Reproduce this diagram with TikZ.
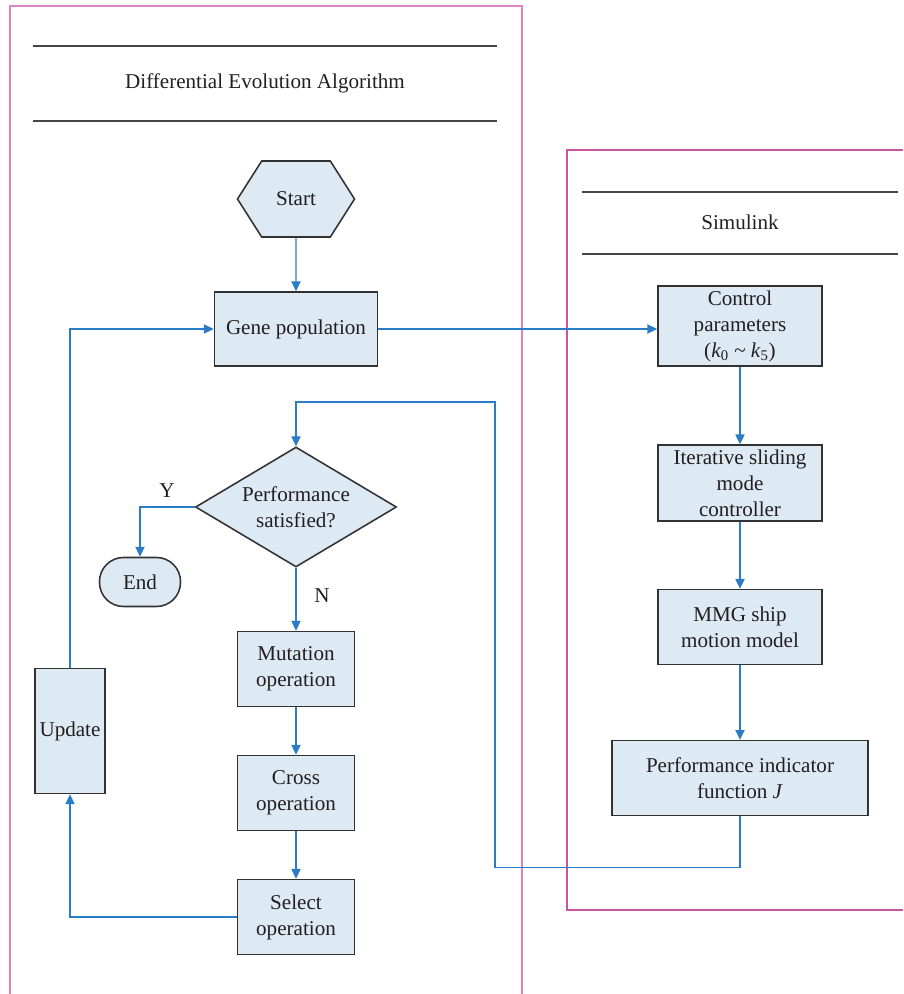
\documentclass[tikz,border=0pt]{standalone}
\usepackage{fontspec}
\setmainfont{Liberation Serif}
\usepackage{tikz}
\usetikzlibrary{shapes.geometric, shapes.symbols, arrows.meta}
\definecolor{boxfill}{RGB}{221,233,243}
\definecolor{boxline}{RGB}{50,50,50}
\definecolor{flowblue}{RGB}{43,124,198}
\definecolor{panelleft}{RGB}{222,132,198}
\definecolor{panelright}{RGB}{200,86,160}
\definecolor{rulegray}{RGB}{70,70,70}
\definecolor{txt}{RGB}{35,31,32}
\tikzstyle{box} = [rectangle, draw=boxline, fill=boxfill, line width=1.1pt, text centered, align=center, inner sep=1pt, minimum height=1.85cm]
\tikzstyle{opbox} = [box, minimum width=2.925cm, minimum height=1.875cm]
\tikzstyle{sbox} = [box, minimum width=4.1cm, minimum height=1.9cm]
\tikzstyle{decision} = [diamond, draw=boxline, fill=boxfill, line width=1.1pt, align=center, aspect=1.675, inner sep=0pt, minimum width=5.025cm, minimum height=3cm]
\tikzstyle{startnode} = [signal, signal to=west and east, signal pointer angle=115, draw=boxline, fill=boxfill, line width=1.1pt, minimum width=2.925cm, minimum height=1.9cm, inner sep=0pt]
\tikzstyle{endnode} = [rectangle, rounded corners=0.6cm, draw=boxline, fill=boxfill, line width=1.1pt, minimum width=2.025cm, minimum height=1.225cm]
\tikzstyle{arrow} = [draw=flowblue, line width=1pt, -{Triangle[length=7pt, width=6.5pt]}]
\tikzstyle{rule} = [draw=rulegray, line width=1.1pt]

\begin{document}
\begin{tikzpicture}[x=0.025cm, y=-0.025cm, node distance=3.1cm, font=\fontsize{15}{18.5}\selectfont, text=txt]
  \useasboundingbox (0,0) rectangle (903,994);

  % panels
  \draw[panelleft, line width=1pt] (10,994) -- (10,6) -- (522,6) -- (522,994);
  \draw[panelright, line width=1pt] (903,150) -- (567,150) -- (567,910) -- (903,910);

  % headers
  \draw[rule] (33,46) -- (497,46);
  \draw[rule] (33,121) -- (497,121);
  \node (detitle) at (265,83) {Differential Evolution Algorithm};
  \draw[rule] (582,192) -- (898,192);
  \draw[rule] (582,254) -- (898,254);
  \node (simtitle) at (740,222) {Simulink};

  % left side
  \node (start) [startnode] at (296,199) {Start};
  \node (gene) [box, minimum width=4.075cm] at (296,329) {Gene population};
  \node (dec) [decision] at (296,507) {Performance\\satisfied?};
  \node (end) [endnode] at (140,582) {End};
  \node (mut) [opbox] at (296,669) {Mutation\\operation};
  \node (cross) [opbox, below of=mut] {Cross\\operation};
  \node (sel) [opbox, below of=cross] {Select\\operation};
  \node (upd) [box, minimum width=1.75cm, minimum height=3.125cm] at (70,731) {Update};
  \node (ylab) at (167,491) {Y};
  \node (nlab) at (322,596) {N};

  % right side
  \node (ctrl) [sbox, minimum height=2cm] at (740,326) {Control\\parameters\\(\textit{k}\textsubscript{0} \textasciitilde{} \textit{k}\textsubscript{5})};
  \node (ism) [sbox, below of=ctrl, node distance=3.925cm] {Iterative sliding\\mode\\controller};
  \node (mmg) [sbox, minimum height=1.875cm, below of=ism, node distance=3.6cm] {MMG ship\\motion model};
  \node (perf) [sbox, minimum width=6.4cm, minimum height=1.875cm, below of=mmg, node distance=3.775cm] {Performance indicator\\function \textit{J}};

  \coordinate (back) at (495,402);

  \draw [arrow] (start) -- (gene);
  \draw [arrow] (gene.east) -- (gene.east -| ctrl.west);
  \draw [arrow] (ctrl) -- (ism);
  \draw [arrow] (ism) -- (mmg);
  \draw [arrow] (mmg) -- (perf);
  \draw [arrow] (perf.south) -- ++(0,51) -| (back) -| (dec.north);
  \draw [arrow] (dec.west) -| (end.north);
  \draw [arrow] (dec) -- (mut);
  \draw [arrow] (mut) -- (cross);
  \draw [arrow] (cross) -- (sel);
  \draw [arrow] (sel.west) -| (upd.south);
  \draw [arrow] (upd.north) |- (gene.west);
\end{tikzpicture}
\end{document}
